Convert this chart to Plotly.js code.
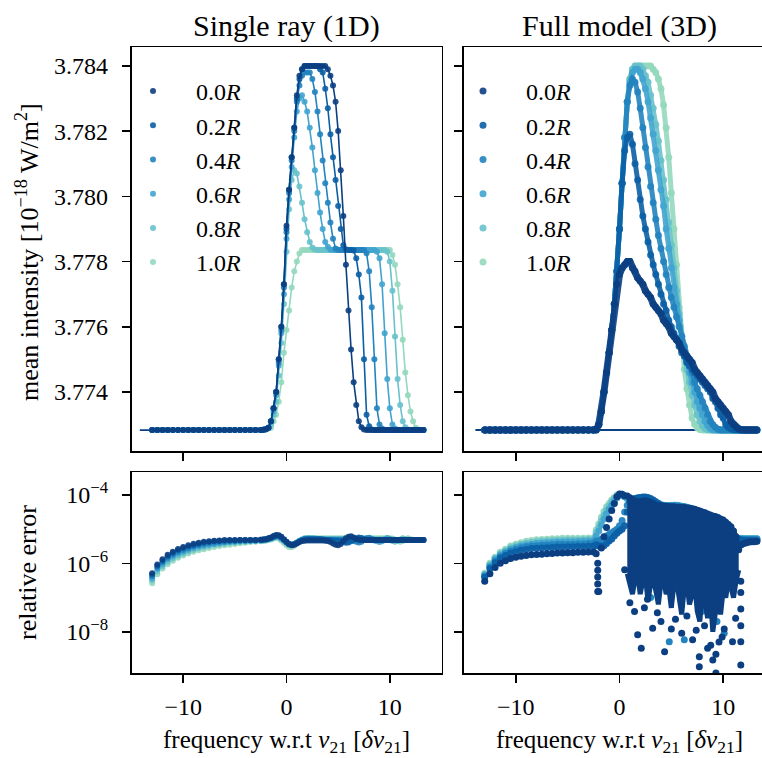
<!DOCTYPE html>
<html>
<head>
<meta charset="utf-8">
<script src="https://cdn.plot.ly/plotly-3.0.1.min.js"></script>
<style>
  html, body { margin: 0; padding: 0; overflow: hidden; background: #fff; }
  #chart { width: 780px; height: 758px; }
</style>
</head>
<body>
<div id="chart"></div>
<script>
// Frequency grid (units of the line width, relative to nu_21)
const freq = [
  -13.0, -12.5, -12.0, -11.5, -11.0, -10.5, -10.0, -9.5, -9.0, -8.5, -8.0,
  -7.5, -7.0, -6.5, -6.0, -5.5, -5.0, -4.5, -4.0, -3.5, -3.0, -2.5,
  -2.25, -2.0, -1.75, -1.5, -1.25, -1.0, -0.75, -0.5, -0.25, 0.0,
  0.25, 0.5, 0.75, 1.0, 1.25, 1.5, 1.75, 2.0, 2.25, 2.5,
  2.75, 3.0, 3.25, 3.5, 3.75, 4.0, 4.25, 4.5, 4.75, 5.0,
  5.25, 5.5, 5.75, 6.0, 6.25, 6.5, 6.75, 7.0, 7.25, 7.5,
  7.75, 8.0, 8.25, 8.5, 8.75, 9.0, 9.25, 9.5, 9.75, 10.0,
  10.25, 10.5, 10.75, 11.0, 11.25, 11.5, 11.75, 12.0, 12.25, 12.5,
  12.75, 13.0, 13.25
];

const radii = ['0.0', '0.2', '0.4', '0.6', '0.8', '1.0'];

// ---- Single ray (1D): mean intensity [1e-18 W/m^2] ----
const int1d_00 = [
  3.77283, 3.77283, 3.77283, 3.77283, 3.77283, 3.77283, 3.77283, 3.77283, 3.77283, 3.77283, 3.77283,
  3.77283, 3.77283, 3.77283, 3.77283, 3.77283, 3.77283, 3.77283, 3.77283, 3.77283, 3.77283, 3.77283,
  3.77284, 3.77286, 3.7729, 3.7731, 3.7735, 3.7740, 3.7750, 3.7760, 3.7773, 3.7791,
  3.7802, 3.7812, 3.7821, 3.7831, 3.7837, 3.7839, 3.7840, 3.7840, 3.7840, 3.7840,
  3.7840, 3.7840, 3.7840, 3.7840, 3.7840, 3.7839, 3.7837, 3.7834, 3.7829, 3.7820,
  3.7808, 3.7794, 3.7779, 3.7765, 3.7753, 3.7743, 3.7736, 3.7731, 3.77292, 3.77285,
  3.77283, 3.77283, 3.77283, 3.77283, 3.77283, 3.77283, 3.77283, 3.77283, 3.77283, 3.77283,
  3.77283, 3.77283, 3.77283, 3.77283, 3.77283, 3.77283, 3.77283, 3.77283, 3.77283, 3.77283,
  3.77283, 3.77283, 3.77283
];
const int1d_02 = [
  3.77283, 3.77283, 3.77283, 3.77283, 3.77283, 3.77283, 3.77283, 3.77283, 3.77283, 3.77283, 3.77283,
  3.77283, 3.77283, 3.77283, 3.77283, 3.77283, 3.77283, 3.77283, 3.77283, 3.77283, 3.77283, 3.77283,
  3.77284, 3.77286, 3.7729, 3.7731, 3.7735, 3.7740, 3.7750, 3.7760, 3.7773, 3.7790,
  3.7802, 3.7812, 3.7821, 3.7830, 3.7836, 3.7839, 3.7840, 3.7840, 3.7840, 3.7840,
  3.7840, 3.7840, 3.7839, 3.7838, 3.7833, 3.7827, 3.7819, 3.7812, 3.7805, 3.7797,
  3.7790, 3.7785, 3.77838, 3.77835, 3.77835, 3.77834, 3.7781, 3.7776, 3.7769, 3.7750,
  3.7733, 3.77295, 3.77285, 3.77283, 3.77283, 3.77283, 3.77283, 3.77283, 3.77283, 3.77283,
  3.77283, 3.77283, 3.77283, 3.77283, 3.77283, 3.77283, 3.77283, 3.77283, 3.77283, 3.77283,
  3.77283, 3.77283, 3.77283
];
const int1d_04 = [
  3.77283, 3.77283, 3.77283, 3.77283, 3.77283, 3.77283, 3.77283, 3.77283, 3.77283, 3.77283, 3.77283,
  3.77283, 3.77283, 3.77283, 3.77283, 3.77283, 3.77283, 3.77283, 3.77283, 3.77283, 3.77283, 3.77283,
  3.77284, 3.77286, 3.7729, 3.7731, 3.7735, 3.7740, 3.7749, 3.7759, 3.7772, 3.7789,
  3.7801, 3.7811, 3.7820, 3.7829, 3.7834, 3.7837, 3.7838, 3.7838, 3.7838, 3.7836,
  3.7832, 3.7826, 3.7819, 3.7811, 3.7804, 3.7798, 3.7792, 3.7787, 3.7784, 3.77836,
  3.77835, 3.77835, 3.77835, 3.77835, 3.77835, 3.77835, 3.77835, 3.77835, 3.77835, 3.77835,
  3.77825, 3.7777, 3.7766, 3.7750, 3.7735, 3.7730, 3.77288, 3.77283, 3.77283, 3.77283,
  3.77283, 3.77283, 3.77283, 3.77283, 3.77283, 3.77283, 3.77283, 3.77283, 3.77283, 3.77283,
  3.77283, 3.77283, 3.77283
];
const int1d_06 = [
  3.77283, 3.77283, 3.77283, 3.77283, 3.77283, 3.77283, 3.77283, 3.77283, 3.77283, 3.77283, 3.77283,
  3.77283, 3.77283, 3.77283, 3.77283, 3.77283, 3.77283, 3.77283, 3.77283, 3.77283, 3.77283, 3.77283,
  3.77284, 3.77286, 3.7729, 3.7731, 3.7734, 3.7739, 3.7748, 3.7758, 3.7770, 3.7787,
  3.7799, 3.7809, 3.7818, 3.7826, 3.7830, 3.7831, 3.7829, 3.7826, 3.7821, 3.7815,
  3.7808, 3.7801, 3.7795, 3.7790, 3.7786, 3.77845, 3.77837, 3.77835, 3.77835, 3.77835,
  3.77835, 3.77835, 3.77835, 3.77835, 3.77835, 3.77835, 3.77835, 3.77835, 3.77835, 3.77835,
  3.77835, 3.77835, 3.77835, 3.77835, 3.7783, 3.7781, 3.7773, 3.7758, 3.7744, 3.7735,
  3.7730, 3.77288, 3.77283, 3.77283, 3.77283, 3.77283, 3.77283, 3.77283, 3.77283, 3.77283,
  3.77283, 3.77283, 3.77283
];
const int1d_08 = [
  3.77283, 3.77283, 3.77283, 3.77283, 3.77283, 3.77283, 3.77283, 3.77283, 3.77283, 3.77283, 3.77283,
  3.77283, 3.77283, 3.77283, 3.77283, 3.77283, 3.77283, 3.77283, 3.77283, 3.77283, 3.77283, 3.77283,
  3.77284, 3.77286, 3.7729, 3.7730, 3.7733, 3.7737, 3.7745, 3.7755, 3.7767, 3.7783,
  3.7796, 3.7805, 3.7808, 3.7807, 3.7803, 3.7798, 3.7793, 3.7789, 3.7786, 3.77843,
  3.77837, 3.77835, 3.77835, 3.77835, 3.77835, 3.77835, 3.77835, 3.77835, 3.77835, 3.77835,
  3.77835, 3.77835, 3.77835, 3.77835, 3.77835, 3.77835, 3.77835, 3.77835, 3.77835, 3.77835,
  3.77835, 3.77835, 3.77835, 3.77835, 3.77835, 3.77835, 3.77835, 3.77835, 3.7783, 3.7780,
  3.7771, 3.7757, 3.7744, 3.7736, 3.7731, 3.77292, 3.77285, 3.77283, 3.77283, 3.77283,
  3.77283, 3.77283, 3.77283
];
const int1d_10 = [
  3.77283, 3.77283, 3.77283, 3.77283, 3.77283, 3.77283, 3.77283, 3.77283, 3.77283, 3.77283, 3.77283,
  3.77283, 3.77283, 3.77283, 3.77283, 3.77283, 3.77283, 3.77283, 3.77283, 3.77283, 3.77283, 3.77283,
  3.77283, 3.77285, 3.77288, 3.7729, 3.7731, 3.7733, 3.7737, 3.7743, 3.7752, 3.7759,
  3.7765, 3.7772, 3.7777, 3.7780, 3.77825, 3.77835, 3.77835, 3.77835, 3.77835, 3.77835,
  3.77835, 3.77835, 3.77835, 3.77835, 3.77835, 3.77835, 3.77835, 3.77835, 3.77835, 3.77835,
  3.77835, 3.77835, 3.77835, 3.77835, 3.77835, 3.77835, 3.77835, 3.77835, 3.77835, 3.77835,
  3.77835, 3.77835, 3.77835, 3.77835, 3.77835, 3.77835, 3.77835, 3.77835, 3.77835, 3.77835,
  3.7782, 3.7779, 3.7773, 3.7766, 3.7756, 3.7746, 3.7739, 3.7734, 3.7731, 3.7729,
  3.77285, 3.77283, 3.77283
];

// ---- Full model (3D): mean intensity [1e-18 W/m^2] ----
const int3d_00 = [
  3.77283, 3.77283, 3.77283, 3.77283, 3.77283, 3.77283, 3.77283, 3.77283, 3.77283, 3.77283, 3.77283,
  3.77283, 3.77283, 3.77283, 3.77283, 3.77283, 3.77283, 3.77283, 3.77283, 3.77283, 3.77283, 3.77283,
  3.77284, 3.7730, 3.7734, 3.7740, 3.7746, 3.7752, 3.7759, 3.7767, 3.7773, 3.7776,
  3.7778, 3.7779, 3.7780, 3.7780, 3.7778, 3.7777, 3.7775, 3.7774, 3.7773, 3.7771,
  3.7770, 3.7769, 3.7767, 3.7766, 3.7765, 3.7764, 3.7762, 3.7761, 3.7760, 3.7758,
  3.7757, 3.7756, 3.7755, 3.7753, 3.7752, 3.7751, 3.7750, 3.7749, 3.7747, 3.7746,
  3.7745, 3.7744, 3.7743, 3.7742, 3.7741, 3.7740, 3.7738, 3.7737, 3.7736, 3.7735,
  3.7734, 3.7733, 3.7731, 3.7730, 3.77292, 3.77287, 3.77284, 3.77283, 3.77283, 3.77283,
  3.77283, 3.77283, 3.77283
];
const int3d_02 = [
  3.77283, 3.77283, 3.77283, 3.77283, 3.77283, 3.77283, 3.77283, 3.77283, 3.77283, 3.77283, 3.77283,
  3.77283, 3.77283, 3.77283, 3.77283, 3.77283, 3.77283, 3.77283, 3.77283, 3.77283, 3.77283, 3.77283,
  3.77284, 3.7730, 3.7734, 3.7740, 3.7746, 3.7752, 3.7759, 3.7767, 3.7777, 3.7790,
  3.7804, 3.7814, 3.7818, 3.7819, 3.7816, 3.7810, 3.7805, 3.7799, 3.7794, 3.7790,
  3.7786, 3.7782, 3.7779, 3.7776, 3.7773, 3.7770, 3.7767, 3.7765, 3.7762, 3.7760,
  3.7758, 3.7756, 3.7754, 3.7752, 3.7751, 3.7749, 3.7748, 3.7747, 3.7746, 3.7745,
  3.7744, 3.7743, 3.7742, 3.7741, 3.7740, 3.7738, 3.7737, 3.7735, 3.7733, 3.7732,
  3.7730, 3.77292, 3.77287, 3.77284, 3.77283, 3.77283, 3.77283, 3.77283, 3.77283, 3.77283,
  3.77283, 3.77283, 3.77283
];
const int3d_04 = [
  3.77283, 3.77283, 3.77283, 3.77283, 3.77283, 3.77283, 3.77283, 3.77283, 3.77283, 3.77283, 3.77283,
  3.77283, 3.77283, 3.77283, 3.77283, 3.77283, 3.77283, 3.77283, 3.77283, 3.77283, 3.77283, 3.77283,
  3.77284, 3.7730, 3.7734, 3.7740, 3.7746, 3.7752, 3.7759, 3.7767, 3.7777, 3.7790,
  3.7804, 3.7818, 3.7829, 3.7834, 3.7836, 3.7835, 3.7832, 3.7827, 3.7821, 3.7815,
  3.7809, 3.7803, 3.7798, 3.7793, 3.7788, 3.7784, 3.7780, 3.7776, 3.7772, 3.7769,
  3.7766, 3.7763, 3.7760, 3.7757, 3.7754, 3.7751, 3.7748, 3.7746, 3.7743, 3.7741,
  3.7739, 3.7737, 3.7735, 3.7733, 3.7731, 3.77300, 3.77292, 3.77286, 3.77283, 3.77283,
  3.77283, 3.77283, 3.77283, 3.77283, 3.77283, 3.77283, 3.77283, 3.77283, 3.77283, 3.77283,
  3.77283, 3.77283, 3.77283
];
const int3d_06 = [
  3.77283, 3.77283, 3.77283, 3.77283, 3.77283, 3.77283, 3.77283, 3.77283, 3.77283, 3.77283, 3.77283,
  3.77283, 3.77283, 3.77283, 3.77283, 3.77283, 3.77283, 3.77283, 3.77283, 3.77283, 3.77283, 3.77283,
  3.77284, 3.7730, 3.7734, 3.7740, 3.7746, 3.7752, 3.7759, 3.7767, 3.7777, 3.7790,
  3.7804, 3.7818, 3.7829, 3.7835, 3.7838, 3.7839, 3.7839, 3.7838, 3.7836, 3.7833,
  3.7829, 3.7824, 3.7819, 3.7814, 3.7808, 3.7802, 3.7797, 3.7790, 3.7784, 3.7778,
  3.7772, 3.7767, 3.7762, 3.7757, 3.7753, 3.7749, 3.7746, 3.7743, 3.7740, 3.7737,
  3.7735, 3.7733, 3.7731, 3.77298, 3.77289, 3.77284, 3.77283, 3.77283, 3.77283, 3.77283,
  3.77283, 3.77283, 3.77283, 3.77283, 3.77283, 3.77283, 3.77283, 3.77283, 3.77283, 3.77283,
  3.77283, 3.77283, 3.77283
];
const int3d_08 = [
  3.77283, 3.77283, 3.77283, 3.77283, 3.77283, 3.77283, 3.77283, 3.77283, 3.77283, 3.77283, 3.77283,
  3.77283, 3.77283, 3.77283, 3.77283, 3.77283, 3.77283, 3.77283, 3.77283, 3.77283, 3.77283, 3.77283,
  3.77284, 3.7730, 3.7734, 3.7740, 3.7746, 3.7752, 3.7759, 3.7767, 3.7777, 3.7790,
  3.7804, 3.7818, 3.7829, 3.7836, 3.7839, 3.7840, 3.7840, 3.7840, 3.7839, 3.7837,
  3.7835, 3.7831, 3.7827, 3.7822, 3.7817, 3.7811, 3.7805, 3.7799, 3.7792, 3.7785,
  3.7778, 3.7771, 3.7764, 3.7757, 3.7752, 3.7747, 3.7743, 3.7739, 3.7736, 3.7733,
  3.7731, 3.77296, 3.77288, 3.77284, 3.77283, 3.77283, 3.77283, 3.77283, 3.77283, 3.77283,
  3.77283, 3.77283, 3.77283, 3.77283, 3.77283, 3.77283, 3.77283, 3.77283, 3.77283, 3.77283,
  3.77283, 3.77283, 3.77283
];
const int3d_10 = [
  3.77283, 3.77283, 3.77283, 3.77283, 3.77283, 3.77283, 3.77283, 3.77283, 3.77283, 3.77283, 3.77283,
  3.77283, 3.77283, 3.77283, 3.77283, 3.77283, 3.77283, 3.77283, 3.77283, 3.77283, 3.77283, 3.77283,
  3.77284, 3.7730, 3.7734, 3.7740, 3.7746, 3.7752, 3.7759, 3.7767, 3.7777, 3.7790,
  3.7804, 3.7818, 3.7829, 3.7836, 3.7839, 3.7840, 3.7840, 3.7840, 3.7840, 3.7840,
  3.7840, 3.7840, 3.7839, 3.7838, 3.7836, 3.7833, 3.7828, 3.7821, 3.7812, 3.7801,
  3.7790, 3.7779, 3.7766, 3.7755, 3.7747, 3.7741, 3.7736, 3.7732, 3.77300, 3.77290,
  3.77285, 3.77283, 3.77283, 3.77283, 3.77283, 3.77283, 3.77283, 3.77283, 3.77283, 3.77283,
  3.77283, 3.77283, 3.77283, 3.77283, 3.77283, 3.77283, 3.77283, 3.77283, 3.77283, 3.77283,
  3.77283, 3.77283, 3.77283
];
// connecting line of the 3D samples along the continuum level
const flatFreq3d = [-13.9, 13.3];
const flatLevel3d = [3.77283, 3.77283];
// line of the 1D solution starts left of the first sample
const leadFreq1d = [-14.2, -13.0];
const leadLevel1d = [3.77283, 3.77283];

// ---- Single ray (1D): relative error ----
const err1d_00 = [
  5.1e-7, 9.3e-7, 1.32e-6, 1.78e-6, 2.19e-6, 2.63e-6, 3.02e-6, 3.39e-6, 3.72e-6, 3.98e-6, 4.27e-6,
  4.47e-6, 4.57e-6, 4.68e-6, 4.79e-6, 4.79e-6, 4.79e-6, 4.79e-6, 4.79e-6, 4.79e-6, 4.79e-6, 4.9e-6,
  5.0e-6, 5.1e-6, 5.4e-6, 5.75e-6, 6.3e-6, 6.8e-6, 6.6e-6, 6.0e-6, 5.0e-6, 4.2e-6,
  3.6e-6, 3.4e-6, 3.5e-6, 3.8e-6, 4.2e-6, 4.5e-6, 4.6e-6, 4.7e-6, 4.7e-6, 4.7e-6,
  4.7e-6, 4.7e-6, 4.7e-6, 4.7e-6, 4.6e-6, 4.5e-6, 4.2e-6, 3.8e-6, 3.5e-6, 3.4e-6,
  3.7e-6, 4.5e-6, 5.4e-6, 6.0e-6, 6.2e-6, 5.75e-6, 5.2e-6, 4.9e-6, 4.8e-6, 4.8e-6,
  4.8e-6, 4.8e-6, 4.8e-6, 4.8e-6, 4.8e-6, 4.8e-6, 4.8e-6, 4.8e-6, 4.8e-6, 4.8e-6,
  4.8e-6, 4.8e-6, 4.8e-6, 4.8e-6, 4.8e-6, 4.8e-6, 4.8e-6, 4.8e-6, 4.8e-6, 4.8e-6,
  4.8e-6, 4.8e-6, 4.8e-6
];
const err1d_02 = [
  4.7e-7, 8.5e-7, 1.2e-6, 1.62e-6, 2.0e-6, 2.4e-6, 2.75e-6, 3.1e-6, 3.4e-6, 3.7e-6, 4.0e-6,
  4.2e-6, 4.4e-6, 4.5e-6, 4.6e-6, 4.7e-6, 4.7e-6, 4.8e-6, 4.8e-6, 4.8e-6, 4.8e-6, 4.9e-6,
  5.0e-6, 5.1e-6, 5.3e-6, 5.6e-6, 6.1e-6, 6.5e-6, 6.4e-6, 5.8e-6, 5.0e-6, 4.3e-6,
  3.7e-6, 3.5e-6, 3.6e-6, 3.9e-6, 4.3e-6, 4.7e-6, 5.0e-6, 5.1e-6, 5.1e-6, 5.1e-6,
  5.1e-6, 5.1e-6, 5.1e-6, 5.0e-6, 4.9e-6, 4.8e-6, 4.8e-6, 4.7e-6, 4.6e-6, 4.5e-6,
  4.4e-6, 4.2e-6, 4.0e-6, 4.1e-6, 4.4e-6, 4.8e-6, 5.3e-6, 5.7e-6, 5.5e-6, 5.1e-6,
  4.9e-6, 4.8e-6, 4.8e-6, 4.8e-6, 4.8e-6, 4.8e-6, 4.8e-6, 4.8e-6, 4.8e-6, 4.8e-6,
  4.8e-6, 4.8e-6, 4.8e-6, 4.8e-6, 4.8e-6, 4.8e-6, 4.8e-6, 4.8e-6, 4.8e-6, 4.8e-6,
  4.8e-6, 4.8e-6, 4.8e-6
];
const err1d_04 = [
  4.2e-7, 7.6e-7, 1.07e-6, 1.45e-6, 1.78e-6, 2.14e-6, 2.45e-6, 2.75e-6, 3.1e-6, 3.4e-6, 3.6e-6,
  3.8e-6, 4.0e-6, 4.2e-6, 4.3e-6, 4.4e-6, 4.5e-6, 4.6e-6, 4.6e-6, 4.7e-6, 4.7e-6, 4.8e-6,
  4.9e-6, 5.0e-6, 5.2e-6, 5.5e-6, 5.9e-6, 6.3e-6, 6.2e-6, 5.6e-6, 4.9e-6, 4.2e-6,
  3.7e-6, 3.5e-6, 3.7e-6, 4.0e-6, 4.4e-6, 4.8e-6, 5.1e-6, 5.2e-6, 5.2e-6, 5.2e-6,
  5.2e-6, 5.2e-6, 5.1e-6, 5.0e-6, 4.9e-6, 4.9e-6, 4.9e-6, 4.9e-6, 4.9e-6, 4.9e-6,
  4.9e-6, 4.9e-6, 4.9e-6, 4.9e-6, 4.8e-6, 4.6e-6, 4.3e-6, 4.1e-6, 4.3e-6, 4.8e-6,
  5.4e-6, 5.6e-6, 5.2e-6, 4.9e-6, 4.8e-6, 4.8e-6, 4.8e-6, 4.8e-6, 4.8e-6, 4.8e-6,
  4.8e-6, 4.8e-6, 4.8e-6, 4.8e-6, 4.8e-6, 4.8e-6, 4.8e-6, 4.8e-6, 4.8e-6, 4.8e-6,
  4.8e-6, 4.8e-6, 4.8e-6
];
const err1d_06 = [
  3.7e-7, 6.8e-7, 9.5e-7, 1.29e-6, 1.58e-6, 1.9e-6, 2.2e-6, 2.5e-6, 2.8e-6, 3.1e-6, 3.3e-6,
  3.5e-6, 3.7e-6, 3.9e-6, 4.1e-6, 4.2e-6, 4.3e-6, 4.4e-6, 4.5e-6, 4.6e-6, 4.6e-6, 4.7e-6,
  4.8e-6, 4.9e-6, 5.1e-6, 5.4e-6, 5.8e-6, 6.1e-6, 6.0e-6, 5.4e-6, 4.8e-6, 4.1e-6,
  3.6e-6, 3.5e-6, 3.7e-6, 4.1e-6, 4.5e-6, 4.9e-6, 5.2e-6, 5.3e-6, 5.3e-6, 5.3e-6,
  5.3e-6, 5.2e-6, 5.1e-6, 5.0e-6, 5.0e-6, 5.0e-6, 5.0e-6, 5.0e-6, 5.0e-6, 5.0e-6,
  5.0e-6, 5.0e-6, 5.0e-6, 5.0e-6, 5.0e-6, 5.0e-6, 5.0e-6, 5.0e-6, 5.0e-6, 5.0e-6,
  5.0e-6, 5.0e-6, 4.9e-6, 4.7e-6, 4.4e-6, 4.2e-6, 4.4e-6, 5.0e-6, 5.5e-6, 5.2e-6,
  4.9e-6, 4.8e-6, 4.8e-6, 4.8e-6, 4.8e-6, 4.8e-6, 4.8e-6, 4.8e-6, 4.8e-6, 4.8e-6,
  4.8e-6, 4.8e-6, 4.8e-6
];
const err1d_08 = [
  3.2e-7, 5.8e-7, 8.3e-7, 1.12e-6, 1.38e-6, 1.66e-6, 1.95e-6, 2.24e-6, 2.5e-6, 2.75e-6, 3.0e-6,
  3.2e-6, 3.5e-6, 3.6e-6, 3.8e-6, 4.0e-6, 4.1e-6, 4.2e-6, 4.3e-6, 4.4e-6, 4.5e-6, 4.6e-6,
  4.7e-6, 4.8e-6, 5.0e-6, 5.2e-6, 5.6e-6, 5.9e-6, 5.7e-6, 5.1e-6, 4.5e-6, 3.9e-6,
  3.5e-6, 3.4e-6, 3.7e-6, 4.1e-6, 4.6e-6, 5.0e-6, 5.3e-6, 5.4e-6, 5.4e-6, 5.3e-6,
  5.2e-6, 5.1e-6, 5.1e-6, 5.1e-6, 5.1e-6, 5.1e-6, 5.1e-6, 5.1e-6, 5.1e-6, 5.1e-6,
  5.1e-6, 5.1e-6, 5.1e-6, 5.1e-6, 5.1e-6, 5.1e-6, 5.1e-6, 5.1e-6, 5.1e-6, 5.1e-6,
  5.1e-6, 5.1e-6, 5.1e-6, 5.1e-6, 5.1e-6, 5.1e-6, 5.1e-6, 5.1e-6, 5.0e-6, 4.8e-6,
  4.5e-6, 4.3e-6, 4.5e-6, 5.0e-6, 5.4e-6, 5.1e-6, 4.9e-6, 4.8e-6, 4.8e-6, 4.8e-6,
  4.8e-6, 4.8e-6, 4.8e-6
];
const err1d_10 = [
  2.6e-7, 4.8e-7, 7.1e-7, 9.5e-7, 1.2e-6, 1.45e-6, 1.7e-6, 1.95e-6, 2.2e-6, 2.4e-6, 2.6e-6,
  2.8e-6, 3.0e-6, 3.2e-6, 3.4e-6, 3.5e-6, 3.7e-6, 3.9e-6, 4.0e-6, 4.2e-6, 4.3e-6, 4.4e-6,
  4.5e-6, 4.6e-6, 4.8e-6, 5.0e-6, 5.3e-6, 5.5e-6, 5.3e-6, 4.7e-6, 4.0e-6, 3.4e-6,
  3.0e-6, 3.0e-6, 3.3e-6, 3.8e-6, 4.4e-6, 5.0e-6, 5.4e-6, 5.5e-6, 5.5e-6, 5.5e-6,
  5.5e-6, 5.4e-6, 5.4e-6, 5.4e-6, 5.4e-6, 5.4e-6, 5.4e-6, 5.4e-6, 5.4e-6, 5.4e-6,
  5.4e-6, 5.4e-6, 5.4e-6, 5.4e-6, 5.4e-6, 5.4e-6, 5.4e-6, 5.4e-6, 5.4e-6, 5.4e-6,
  5.4e-6, 5.4e-6, 5.4e-6, 5.4e-6, 5.4e-6, 5.4e-6, 5.4e-6, 5.4e-6, 5.4e-6, 5.4e-6,
  5.3e-6, 5.0e-6, 4.6e-6, 4.3e-6, 4.5e-6, 5.0e-6, 5.4e-6, 5.1e-6, 4.9e-6, 4.8e-6,
  4.8e-6, 4.8e-6, 4.8e-6
];

// ---- Full model (3D): relative error (upper envelope per frequency) ----
const err3d_00 = [
  3.0e-7, 5.0e-7, 7.6e-7, 1.0e-6, 1.2e-6, 1.38e-6, 1.51e-6, 1.62e-6, 1.7e-6, 1.78e-6, 1.82e-6,
  1.86e-6, 1.9e-6, 1.95e-6, 2.0e-6, 2.0e-6, 2.04e-6, 2.04e-6, 2.1e-6, 2.1e-6, 2.14e-6, 2.14e-6,
  1.9e-6, 1.5e-7, 2.8e-6, 6.0e-6, 1.12e-5, 2.0e-5, 3.5e-5, 5.6e-5, 8.9e-5, 1.07e-4,
  1.05e-4, 9.5e-5, 9.3e-5, 8.3e-5, 7.4e-5, 6.6e-5, 6.3e-5, 6.3e-5, 6.6e-5, 6.8e-5,
  6.6e-5, 6.0e-5, 5.5e-5, 5.1e-5, 4.9e-5, 4.8e-5, 4.7e-5, 4.6e-5, 4.6e-5, 4.5e-5,
  4.5e-5, 4.4e-5, 4.4e-5, 4.3e-5, 4.3e-5, 4.2e-5, 4.1e-5, 3.9e-5, 3.8e-5, 3.55e-5,
  3.4e-5, 3.2e-5, 3.0e-5, 2.8e-5, 2.6e-5, 2.45e-5, 2.35e-5, 2.2e-5, 2.0e-5, 1.86e-5,
  1.6e-5, 1.38e-5, 1.17e-5, 8.9e-6, 6.0e-6, 2.5e-6, 3.5e-6, 3.8e-6, 4.0e-6, 4.2e-6,
  4.3e-6, 4.3e-6, 4.4e-6
];
const err3d_02 = [
  3.9e-7, 6.9e-7, 1.05e-6, 1.4e-6, 1.7e-6, 2.0e-6, 2.2e-6, 2.4e-6, 2.55e-6, 2.7e-6, 2.75e-6,
  2.8e-6, 2.85e-6, 2.9e-6, 3.0e-6, 3.0e-6, 3.05e-6, 3.05e-6, 3.1e-6, 3.1e-6, 3.15e-6, 3.2e-6,
  3.5e-6, 3.2e-6, 3.2e-6, 3.3e-6, 3.8e-6, 4.5e-6, 5.2e-6, 6.3e-6, 7.6e-6, 8.9e-6,
  1.0e-5, 1.26e-5, 3.2e-5, 6.3e-5, 7.6e-5, 7.9e-5, 8.3e-5, 8.5e-5, 8.7e-5, 8.7e-5,
  8.5e-5, 7.9e-5, 7.1e-5, 6.3e-5, 5.6e-5, 5.0e-5, 4.7e-5, 4.5e-5, 4.4e-5, 4.4e-5,
  4.4e-5, 4.3e-5, 4.2e-5, 4.1e-5, 4.0e-5, 3.9e-5, 3.8e-5, 3.6e-5, 3.5e-5, 3.3e-5,
  3.2e-5, 3.0e-5, 2.75e-5, 2.5e-5, 2.3e-5, 2.1e-5, 1.86e-5, 1.58e-5, 1.26e-5, 1.0e-5,
  7.9e-6, 6.3e-6, 5.6e-6, 5.2e-6, 5.0e-6, 5.0e-6, 4.8e-6, 4.7e-6, 4.7e-6, 4.6e-6,
  4.6e-6, 4.6e-6, 4.5e-6
];
const err3d_04 = [
  4.2e-7, 7.7e-7, 1.18e-6, 1.6e-6, 1.95e-6, 2.3e-6, 2.6e-6, 2.85e-6, 3.05e-6, 3.2e-6, 3.3e-6,
  3.4e-6, 3.45e-6, 3.5e-6, 3.6e-6, 3.6e-6, 3.65e-6, 3.65e-6, 3.7e-6, 3.7e-6, 3.8e-6, 3.85e-6,
  4.5e-6, 4.5e-6, 5.0e-6, 5.6e-6, 6.3e-6, 7.1e-6, 7.9e-6, 8.9e-6, 1.0e-5, 1.26e-5,
  1.78e-5, 3.2e-5, 5.0e-5, 6.3e-5, 7.1e-5, 7.6e-5, 7.9e-5, 8.3e-5, 8.3e-5, 8.1e-5,
  7.9e-5, 7.4e-5, 6.8e-5, 6.2e-5, 5.6e-5, 5.2e-5, 5.0e-5, 4.9e-5, 4.8e-5, 4.8e-5,
  4.8e-5, 4.8e-5, 4.7e-5, 4.6e-5, 4.5e-5, 4.4e-5, 4.2e-5, 4.0e-5, 3.7e-5, 3.5e-5,
  3.2e-5, 2.8e-5, 2.4e-5, 2.0e-5, 1.58e-5, 1.26e-5, 1.0e-5, 7.9e-6, 6.3e-6, 5.6e-6,
  5.4e-6, 5.25e-6, 5.25e-6, 5.25e-6, 5.25e-6, 5.25e-6, 5.1e-6, 5.1e-6, 5.0e-6, 5.0e-6,
  5.0e-6, 5.0e-6, 5.0e-6
];
const err3d_06 = [
  4.5e-7, 8.4e-7, 1.3e-6, 1.75e-6, 2.15e-6, 2.6e-6, 2.9e-6, 3.2e-6, 3.45e-6, 3.65e-6, 3.8e-6,
  3.9e-6, 4.0e-6, 4.1e-6, 4.2e-6, 4.2e-6, 4.3e-6, 4.3e-6, 4.35e-6, 4.4e-6, 4.5e-6, 4.6e-6,
  6.3e-6, 8.9e-6, 1.32e-5, 2.0e-5, 2.8e-5, 3.8e-5, 5.0e-5, 6.6e-5, 8.3e-5, 9.5e-5,
  1.0e-4, 8.9e-5, 7.9e-5, 7.1e-5, 6.3e-5, 6.0e-5, 6.0e-5, 6.3e-5, 6.6e-5, 6.6e-5,
  6.3e-5, 5.9e-5, 5.5e-5, 5.1e-5, 4.9e-5, 4.8e-5, 4.7e-5, 4.7e-5, 4.8e-5, 4.9e-5,
  5.0e-5, 5.0e-5, 4.9e-5, 4.7e-5, 4.5e-5, 4.2e-5, 3.8e-5, 3.4e-5, 3.0e-5, 2.5e-5,
  2.0e-5, 1.58e-5, 1.2e-5, 8.9e-6, 7.1e-6, 6.0e-6, 5.6e-6, 5.4e-6, 5.25e-6, 5.25e-6,
  5.25e-6, 5.25e-6, 5.25e-6, 5.25e-6, 5.25e-6, 5.25e-6, 5.25e-6, 5.25e-6, 5.25e-6, 5.25e-6,
  5.25e-6, 5.25e-6, 5.25e-6
];
const err3d_08 = [
  4.8e-7, 9.2e-7, 1.4e-6, 1.9e-6, 2.35e-6, 2.85e-6, 3.2e-6, 3.55e-6, 3.9e-6, 4.1e-6, 4.3e-6,
  4.4e-6, 4.5e-6, 4.6e-6, 4.7e-6, 4.75e-6, 4.8e-6, 4.8e-6, 4.85e-6, 4.9e-6, 5.0e-6, 5.1e-6,
  7.9e-6, 1.12e-5, 1.74e-5, 2.6e-5, 3.6e-5, 4.8e-5, 6.3e-5, 7.9e-5, 9.5e-5, 1.05e-4,
  1.05e-4, 9.3e-5, 8.3e-5, 7.4e-5, 6.6e-5, 6.3e-5, 6.0e-5, 5.9e-5, 5.9e-5, 5.75e-5,
  5.6e-5, 5.4e-5, 5.1e-5, 4.9e-5, 4.8e-5, 4.7e-5, 4.7e-5, 4.8e-5, 4.9e-5, 5.0e-5,
  5.0e-5, 4.9e-5, 4.7e-5, 4.4e-5, 4.0e-5, 3.5e-5, 3.0e-5, 2.4e-5, 1.9e-5, 1.41e-5,
  1.0e-5, 7.6e-6, 6.3e-6, 5.6e-6, 5.4e-6, 5.25e-6, 5.25e-6, 5.25e-6, 5.25e-6, 5.25e-6,
  5.25e-6, 5.25e-6, 5.25e-6, 5.25e-6, 5.25e-6, 5.25e-6, 5.25e-6, 5.25e-6, 5.25e-6, 5.25e-6,
  5.25e-6, 5.25e-6, 5.25e-6
];
const err3d_10 = [
  5.1e-7, 1.0e-6, 1.51e-6, 2.1e-6, 2.6e-6, 3.2e-6, 3.6e-6, 4.0e-6, 4.4e-6, 4.7e-6, 4.9e-6,
  5.0e-6, 5.1e-6, 5.25e-6, 5.25e-6, 5.4e-6, 5.4e-6, 5.4e-6, 5.4e-6, 5.4e-6, 5.5e-6, 5.6e-6,
  9.5e-6, 1.41e-5, 2.24e-5, 3.3e-5, 4.5e-5, 5.6e-5, 7.1e-5, 8.5e-5, 1.0e-4, 1.05e-4,
  1.05e-4, 8.9e-5, 7.9e-5, 7.1e-5, 6.3e-5, 5.9e-5, 5.6e-5, 5.5e-5, 5.4e-5, 5.25e-5,
  5.1e-5, 5.0e-5, 4.9e-5, 4.8e-5, 4.7e-5, 4.7e-5, 4.7e-5, 4.7e-5, 4.6e-5, 4.5e-5,
  4.3e-5, 4.0e-5, 3.55e-5, 3.0e-5, 2.4e-5, 1.78e-5, 1.26e-5, 8.9e-6, 7.1e-6, 6.0e-6,
  5.6e-6, 5.4e-6, 5.25e-6, 5.25e-6, 5.25e-6, 5.25e-6, 5.25e-6, 5.25e-6, 5.25e-6, 5.25e-6,
  5.25e-6, 5.25e-6, 5.25e-6, 5.25e-6, 5.25e-6, 5.25e-6, 5.25e-6, 5.25e-6, 5.25e-6, 5.25e-6,
  5.25e-6, 5.25e-6, 5.25e-6
];
// lower edge of the dense 0.0R sample cloud, for freq 0.75 ... 11.5
const err3dFloor_00 = [
  5.0e-7, 2.5e-7, 1.26e-7, 3.5e-7, 4.5e-7, 1.26e-7, 3.2e-7, 4.0e-7, 7.9e-8, 2.5e-7,
  3.5e-7, 1.6e-7, 6.3e-8, 2.8e-7, 3.5e-7, 1.26e-7, 2.0e-7, 5.0e-8, 2.5e-7, 3.2e-7,
  1.0e-7, 3.2e-8, 2.0e-7, 2.5e-7, 6.3e-8, 1.26e-7, 2.5e-7, 4.0e-8, 2.0e-8, 1.6e-7,
  7.9e-8, 2.5e-8, 1.26e-7, 1.0e-8, 5.0e-8, 1.26e-7, 3.2e-8, 1.6e-7, 1.0e-7, 3.2e-7,
  2.0e-7, 1.0e-7, 3.2e-7, 6.3e-7
];
// isolated low-error samples below the cloud
const outlierFreq_00 = [
  0.5, 1.45, 1.75, 2.1, 2.7, 3.2, 3.65, 4.35, 5.4, 6.5,
  7.05, 7.7, 7.7, 8.2, 8.5, 9.0, 9.3, 9.3, 9.6, 10.1,
  10.9, 11.7, 11.7, 11.7, 11.7, 11.7, 11.7, -2.1, -2.1, -2.1,
  -2.1, -2.1, 1.0, 2.4, 4.0, 5.0, 6.0, 7.4, 8.8, 9.9, 11.2
];
const outlierErr_00 = [
  6.5e-7, 3.9e-8, 8.1e-9, 3.3e-9, 8.9e-8, 1.26e-8, 3.6e-8, 2.6e-9, 2.3e-8, 2.9e-8,
  5.8e-9, 1.86e-9, 9.5e-10, 1.5e-8, 3.3e-9, 1.5e-9, 6.2e-10, 2.2e-9, 5.0e-9, 1.2e-8,
  5.1e-9, 5.1e-9, 1.07e-9, 1.5e-8, 4.6e-8, 1.4e-7, 3.0e-7, 1.0e-6, 6.3e-7, 4.0e-7,
  2.5e-7, 1.5e-7, 7e-8, 5e-8, 2e-8, 1.2e-8, 9e-9, 1.1e-8, 4e-9, 7e-9, 2.5e-8
];
const outlierFreq_04 = [4.8, 6.25, 10.1, 3.0, 8.0, 9.4];
const outlierErr_04 = [5.1e-9, 5.8e-9, 9e-9, 1.0e-7, 4e-8, 2e-8];

// ---- axis ticks ----
const freqTicks = [-10, 0, 10];
const freqTickText = ['\u221210', '0', '10'];
const intensityTicks = [3.774, 3.776, 3.778, 3.780, 3.782, 3.784];
const intensityTickText = ['3.774', '3.776', '3.778', '3.780', '3.782', '3.784'];
const errTicks = [1e-8, 1e-6, 1e-4];
const errTickText = ['10<sup>\u22128</sup>', '10<sup>\u22126</sup>', '10<sup>\u22124</sup>'];

// ---------------------------------------------------------------
const FONT = 'Liberation Serif, Times New Roman, serif';
const colors = ['#0b3f82', '#0b5fa5', '#2283bf', '#41a4cf', '#68c2cb', '#94d8bd'];

const int1d = [int1d_00, int1d_02, int1d_04, int1d_06, int1d_08, int1d_10];
const int3d = [int3d_00, int3d_02, int3d_04, int3d_06, int3d_08, int3d_10];
const err1d = [err1d_00, err1d_02, err1d_04, err1d_06, err1d_08, err1d_10];
const err3d = [err3d_00, err3d_02, err3d_04, err3d_06, err3d_08, err3d_10];

[int1d, int3d, err1d, err3d].forEach(function (group) {
  group.forEach(function (s, i) {
    if (s.length !== freq.length) throw new Error('series ' + i + ' has ' + s.length + ' values');
  });
});

const traces = [];

// top left: single ray
traces.push({x: leadFreq1d, y: leadLevel1d, xaxis: 'x', yaxis: 'y', mode: 'lines',
  line: {color: colors[0], width: 1.6}, showlegend: false, hoverinfo: 'skip'});
for (let k = 5; k >= 0; k--) {
  traces.push({x: freq, y: int1d[k], xaxis: 'x', yaxis: 'y', mode: 'lines',
    line: {color: colors[k], width: 1.6}, showlegend: false, hoverinfo: 'skip'});
  traces.push({x: freq, y: int1d[k], xaxis: 'x', yaxis: 'y', mode: 'markers',
    marker: {color: colors[k], size: 6, opacity: 0.9},
    name: radii[k] + '<i>R</i>', legend: 'legend', legendrank: k + 1});
}

// top right: full model
traces.push({x: flatFreq3d, y: flatLevel3d, xaxis: 'x2', yaxis: 'y2', mode: 'lines',
  line: {color: colors[0], width: 2}, showlegend: false, hoverinfo: 'skip'});
for (let k = 5; k >= 0; k--) {
  traces.push({x: freq, y: int3d[k], xaxis: 'x2', yaxis: 'y2', mode: 'lines',
    line: {color: colors[k], width: k === 0 ? 7 : 5}, opacity: 0.9,
    showlegend: false, hoverinfo: 'skip'});
  traces.push({x: freq, y: int3d[k], xaxis: 'x2', yaxis: 'y2', mode: 'markers',
    marker: {color: colors[k], size: 7, opacity: 0.9},
    name: radii[k] + '<i>R</i>', legend: 'legend2', legendrank: k + 1});
}

// bottom left: single ray error
for (let k = 5; k >= 0; k--) {
  traces.push({x: freq, y: err1d[k], xaxis: 'x3', yaxis: 'y3', mode: 'markers',
    marker: {color: colors[k], size: 6, opacity: 0.9}, showlegend: false});
}

// bottom right: full model error
for (let k = 5; k >= 1; k--) {
  traces.push({x: freq, y: err3d[k], xaxis: 'x4', yaxis: 'y4', mode: 'markers',
    marker: {color: colors[k], size: 7, opacity: 0.95}, showlegend: false});
}
traces.push({x: outlierFreq_04, y: outlierErr_04, xaxis: 'x4', yaxis: 'y4', mode: 'markers',
  marker: {color: colors[2], size: 7}, showlegend: false});
traces.push({x: freq, y: err3d_00, xaxis: 'x4', yaxis: 'y4', mode: 'markers',
  marker: {color: colors[0], size: 7}, showlegend: false});
const cloudFreq = freq.slice(34, 78);
traces.push({x: cloudFreq, y: err3d_00.slice(34, 78), xaxis: 'x4', yaxis: 'y4', mode: 'lines',
  line: {color: colors[0], width: 5}, showlegend: false, hoverinfo: 'skip'});
traces.push({x: cloudFreq, y: err3dFloor_00, xaxis: 'x4', yaxis: 'y4', mode: 'lines',
  fill: 'tonexty', fillcolor: colors[0],
  line: {color: colors[0], width: 5}, showlegend: false, hoverinfo: 'skip'});
traces.push({x: outlierFreq_00, y: outlierErr_00, xaxis: 'x4', yaxis: 'y4', mode: 'markers',
  marker: {color: colors[0], size: 7}, showlegend: false});

// ---------------------------------------------------------------
const W = 780, H = 758;
const colL = [131.5 / W, 441.5 / W];
const colR = [464 / W, 775 / W];
const rowTop = [(H - 451.3) / H, (H - 47.3) / H];
const rowBot = [(H - 673.3) / H, (H - 472.3) / H];

const axisBase = {
  showline: true, mirror: true, linecolor: '#000', linewidth: 1.6,
  ticks: 'outside', ticklen: 8, tickwidth: 1.6, tickcolor: '#000',
  showgrid: false, zeroline: false, fixedrange: true, automargin: false,
  tickfont: {family: FONT, size: 24, color: '#000'}
};
const xBase = Object.assign({}, axisBase, {range: [-15, 15], tickmode: 'array',
  tickvals: freqTicks, ticktext: freqTickText, ticklabelstandoff: 3});
const yTopBase = Object.assign({}, axisBase, {range: [3.77218, 3.78457], tickmode: 'array',
  tickvals: intensityTicks, ticktext: intensityTickText, ticklabelstandoff: 9});
const yBotBase = Object.assign({}, axisBase, {type: 'log', range: [-9.216, -3.336],
  tickmode: 'array', tickvals: errTicks, ticktext: errTickText, ticklabelstandoff: 9});

const legendBase = {
  xanchor: 'left', yanchor: 'top', bgcolor: 'rgba(0,0,0,0)', borderwidth: 0,
  traceorder: 'normal',
  font: {family: FONT, size: 24, color: '#000'}, itemwidth: 76
};

function note(text, x, y, size, angle) {
  return {text: text, x: x / W, y: 1 - y / H, xref: 'paper', yref: 'paper',
    xanchor: 'center', yanchor: 'middle', showarrow: false, textangle: angle || 0,
    font: {family: FONT, size: size, color: '#000'}};
}

const layout = {
  width: W, height: H,
  margin: {l: 0, r: 0, t: 0, b: 0},
  paper_bgcolor: '#fff', plot_bgcolor: '#fff',
  showlegend: true,
  xaxis: Object.assign({}, xBase, {domain: colL, anchor: 'y', showticklabels: false}),
  xaxis2: Object.assign({}, xBase, {domain: colR, anchor: 'y2', showticklabels: false}),
  xaxis3: Object.assign({}, xBase, {domain: colL, anchor: 'y3'}),
  xaxis4: Object.assign({}, xBase, {domain: colR, anchor: 'y4'}),
  yaxis: Object.assign({}, yTopBase, {domain: rowTop, anchor: 'x'}),
  yaxis2: Object.assign({}, yTopBase, {domain: rowTop, anchor: 'x2', showticklabels: false}),
  yaxis3: Object.assign({}, yBotBase, {domain: rowBot, anchor: 'x3'}),
  yaxis4: Object.assign({}, yBotBase, {domain: rowBot, anchor: 'x4', showticklabels: false}),
  legend: Object.assign({}, legendBase, {x: 110 / W, y: 1 - 69 / H}),
  legend2: Object.assign({}, legendBase, {x: 440 / W, y: 1 - 69 / H}),
  annotations: [
    note('Single ray (1D)', 286.5, 26, 30),
    note('Full model (3D)', 619.5, 26, 30),
    note('mean intensity [10<sup>\u221218</sup> W/m<sup>2</sup>]', 27, 252, 26, -90),
    note('relative error', 27, 573, 26, -90),
    note('frequency w.r.t <i>\u03bd</i><sub>21</sub> [<i>\u03b4\u03bd</i><sub>21</sub>]', 286.5, 741, 25),
    note('frequency w.r.t <i>\u03bd</i><sub>21</sub> [<i>\u03b4\u03bd</i><sub>21</sub>]', 619.5, 741, 25)
  ]
};

Plotly.newPlot('chart', traces, layout, {staticPlot: true, displayModeBar: false});
</script>
</body>
</html>
